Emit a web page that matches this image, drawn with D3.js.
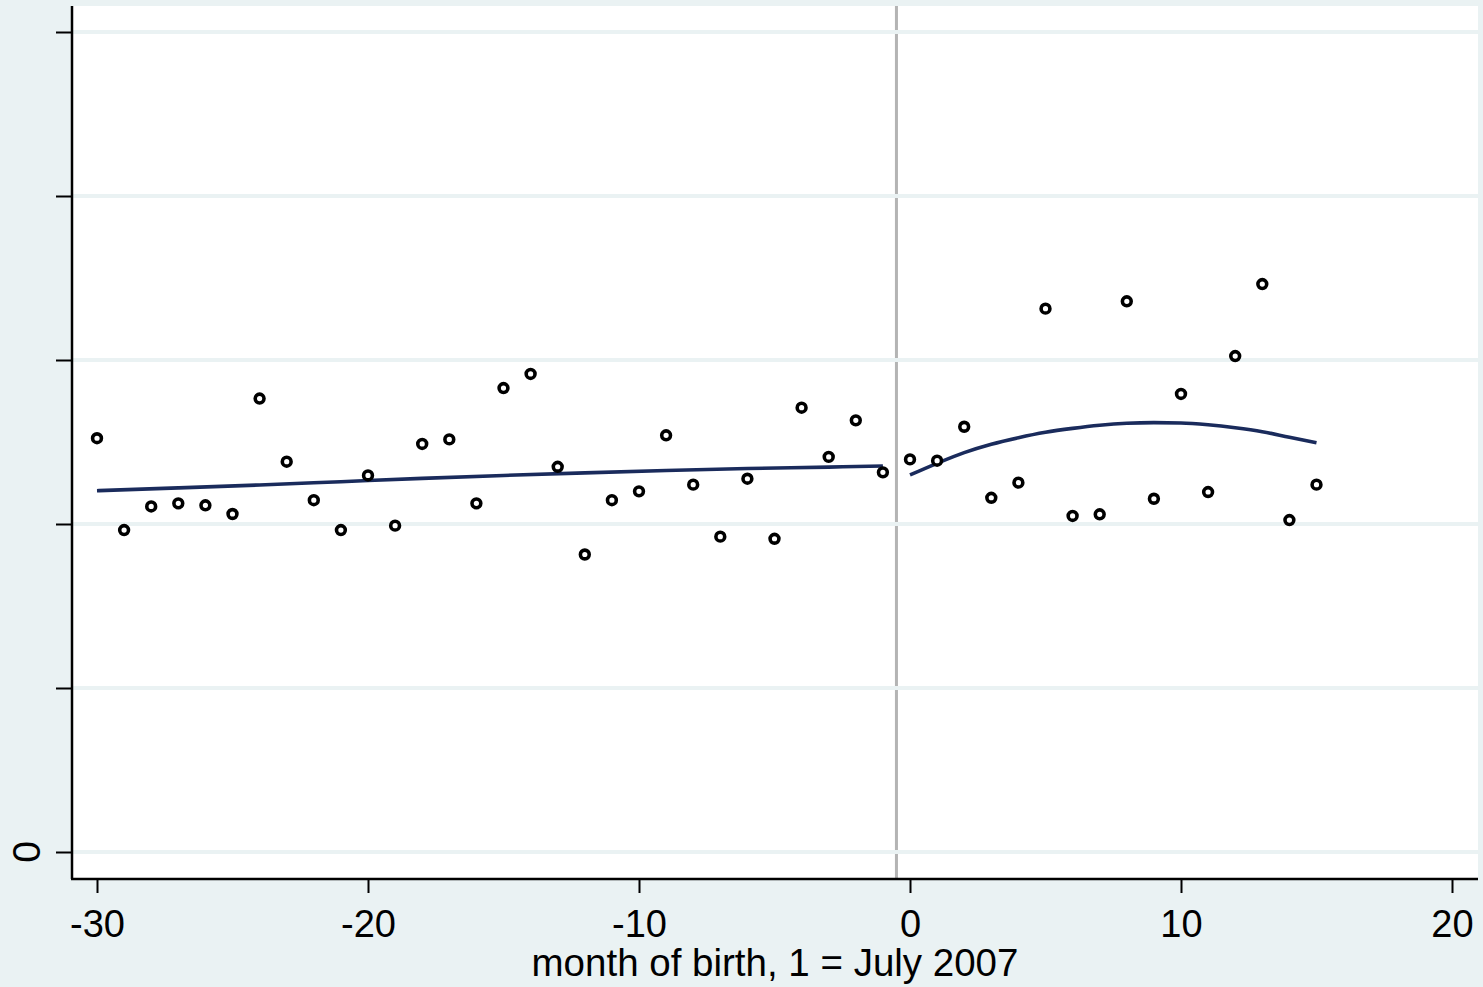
<!DOCTYPE html>
<html>
<head>
<meta charset="utf-8">
<script src="https://cdn.jsdelivr.net/npm/d3@7"></script>
<style>
  html, body { margin: 0; padding: 0; background: #eaf2f3; }
  svg { display: block; font-family: "Liberation Sans", Arial, sans-serif; }
</style>
</head>
<body>
<div id="chart"></div>
<script>
// month of birth (x) and observed means (y)
const months = [-30, -29, -28, -27, -26, -25, -24, -23, -22, -21, -20, -19, -18, -17, -16, -15,
  -14, -13, -12, -11, -10, -9, -8, -7, -6, -5, -4, -3, -2, -1,
  0, 1, 2, 3, 4, 5, 6, 7, 8, 9, 10, 11, 12, 13, 14, 15];
const values = [2.523, 1.963, 2.107, 2.126, 2.114, 2.061, 2.765, 2.380, 2.145, 1.963, 2.296, 1.990, 2.488, 2.516, 2.126, 2.829,
  2.915, 2.349, 1.814, 2.145, 2.199, 2.541, 2.240, 1.923, 2.276, 1.910, 2.709, 2.409, 2.632, 2.315,
  2.394, 2.386, 2.593, 2.160, 2.252, 3.313, 2.049, 2.059, 3.358, 2.154, 2.793, 2.195, 3.024, 3.463, 2.024, 2.240];

// fitted line, left of the cutoff
const fitLeftX = [-30, -27, -24, -21, -18, -15, -12, -9, -6, -3, -1];
const fitLeftY = [2.203, 2.220, 2.238, 2.258, 2.278, 2.296, 2.312, 2.326, 2.338, 2.347, 2.354];

// fitted line, right of the cutoff
const fitRightX = [0, 1, 2, 3, 4, 5, 6, 7, 8, 9, 10, 11, 12, 13, 14, 15];
const fitRightY = [2.299, 2.370, 2.435, 2.486, 2.526, 2.559, 2.583, 2.602, 2.614, 2.618, 2.616, 2.605, 2.587, 2.563, 2.529, 2.496];

const cutoff = -0.5;

const xTicks = [-30, -20, -10, 0, 10, 20];
const xTickLabels = ['-30', '-20', '-10', '0', '10', '20'];
const yTicks = [0, 1, 2, 3, 4, 5];
const yTickLabels = ['0', '', '', '', '', ''];
const xTitle = 'month of birth, 1 = July 2007';

const W = 1483, H = 987;
const plot = { left: 72, right: 1478, top: 6, bottom: 879 };

const svg = d3.select('#chart').append('svg')
  .attr('width', W)
  .attr('height', H);

svg.append('rect').attr('width', W).attr('height', H).attr('fill', '#eaf2f3');
svg.append('rect')
  .attr('x', plot.left).attr('y', plot.top)
  .attr('width', plot.right - plot.left).attr('height', plot.bottom - plot.top)
  .attr('fill', '#ffffff');

const x = d3.scaleLinear().domain([-30, 20]).range([97, 1452]);
const y = d3.scaleLinear().domain([0, 5]).range([852, 32]);

// cutoff line
svg.append('line')
  .attr('x1', x(cutoff)).attr('x2', x(cutoff))
  .attr('y1', plot.top).attr('y2', plot.bottom)
  .attr('stroke', '#b4b4b4')
  .attr('stroke-width', 3);

// grid
svg.append('g')
  .selectAll('line').data(yTicks).join('line')
  .attr('x1', plot.left + 1).attr('x2', plot.right)
  .attr('y1', d => y(d)).attr('y2', d => y(d))
  .attr('stroke', '#eaf2f3')
  .attr('stroke-width', 4);

// y axis
const yAxis = svg.append('g')
  .attr('transform', `translate(${plot.left},0)`)
  .call(d3.axisLeft(y).tickValues(yTicks).tickSize(16).tickFormat(''));
yAxis.select('.domain').remove();
yAxis.selectAll('.tick line').attr('stroke', '#000').attr('stroke-width', 2);
svg.append('line')
  .attr('x1', plot.left).attr('x2', plot.left)
  .attr('y1', plot.top).attr('y2', plot.bottom)
  .attr('stroke', '#000').attr('stroke-width', 2.5);

svg.append('g').selectAll('text').data(yTicks).join('text')
  .attr('transform', d => `translate(40,${y(d)}) rotate(-90)`)
  .attr('text-anchor', 'middle')
  .attr('font-size', 39)
  .attr('fill', '#000')
  .text((d, i) => yTickLabels[i]);

// x axis
const xAxis = svg.append('g')
  .attr('transform', `translate(0,${plot.bottom})`)
  .call(d3.axisBottom(x).tickValues(xTicks).tickSize(14).tickFormat((d, i) => xTickLabels[i]));
xAxis.select('.domain').remove();
xAxis.selectAll('.tick line').attr('stroke', '#000').attr('stroke-width', 2);
xAxis.selectAll('.tick text')
  .attr('y', 58).attr('dy', null)
  .attr('font-size', 38)
  .attr('font-family', '"Liberation Sans", Arial, sans-serif')
  .attr('fill', '#000');
svg.append('line')
  .attr('x1', plot.left - 1).attr('x2', plot.right)
  .attr('y1', plot.bottom).attr('y2', plot.bottom)
  .attr('stroke', '#000').attr('stroke-width', 2.5);

svg.append('text')
  .attr('x', (plot.left + plot.right) / 2)
  .attr('y', 976)
  .attr('text-anchor', 'middle')
  .attr('font-size', 38.5)
  .attr('fill', '#000')
  .text(xTitle);

// fitted lines
const line = d3.line()
  .x(d => x(d[0]))
  .y(d => y(d[1]))
  .curve(d3.curveMonotoneX);

svg.append('path')
  .datum(d3.zip(fitLeftX, fitLeftY))
  .attr('d', line)
  .attr('fill', 'none')
  .attr('stroke', '#1a2b5c')
  .attr('stroke-width', 3.6);

svg.append('path')
  .datum(d3.zip(fitRightX, fitRightY))
  .attr('d', line)
  .attr('fill', 'none')
  .attr('stroke', '#1a2b5c')
  .attr('stroke-width', 3.6);

// scatter
svg.append('g')
  .selectAll('circle').data(d3.zip(months, values)).join('circle')
  .attr('cx', d => x(d[0]))
  .attr('cy', d => y(d[1]))
  .attr('r', 4.4)
  .attr('fill', '#fff')
  .attr('stroke', '#000')
  .attr('stroke-width', 3.6);
</script>
</body>
</html>
